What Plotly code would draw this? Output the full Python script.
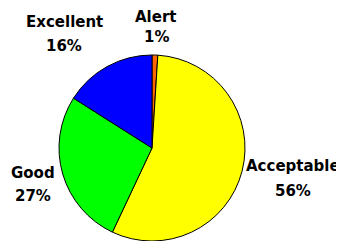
import plotly.graph_objects as go

labels = ["Alert", "Acceptable", "Good", "Excellent"]
values = [1, 56, 27, 16]
colors = ["#FF6600", "#FFFF00", "#00FF00", "#0000FF"]

# page body has an 8px margin; figure sits at (8, 8)
OFF = 8
W, H = 344 - OFF, 241 - OFF
# (x center, y of name line, y of percent line) in page pixels
label_pos = {"Alert": (156, 17, 37), "Acceptable": (293, 166, 191),
             "Good": (33, 173, 196), "Excellent": (64, 22, 46)}

cx, cy, r = 152, 150, 95
fig = go.Figure(go.Pie(
    labels=labels, values=values, sort=False, direction="clockwise", rotation=0,
    marker=dict(colors=colors, line=dict(color="black", width=1)),
    textinfo="none", hoverinfo="label+percent",
    domain=dict(x=[(cx - r - OFF) / W, (cx + r - OFF) / W],
                y=[max(0, 1 - (cy + r - OFF) / H), 1 - (cy - r - OFF) / H]),
))

font = dict(family="DejaVu Sans, sans-serif", size=15, color="black")
for lab, val in zip(labels, values):
    px, py1, py2 = label_pos[lab]
    for txt, py in ((lab, py1), (f"{val}%", py2)):
        fig.add_annotation(
            x=(px - OFF) / W, y=1 - (py - OFF) / H, xref="paper", yref="paper",
            text=f"<b>{txt}</b>", showarrow=False, font=font,
            xanchor="center", yanchor="middle", align="center",
        )

fig.update_layout(
    width=W, height=H, margin=dict(l=0, r=0, t=0, b=0),
    showlegend=False, paper_bgcolor="white", plot_bgcolor="white",
)
fig.write_html("out.html")
